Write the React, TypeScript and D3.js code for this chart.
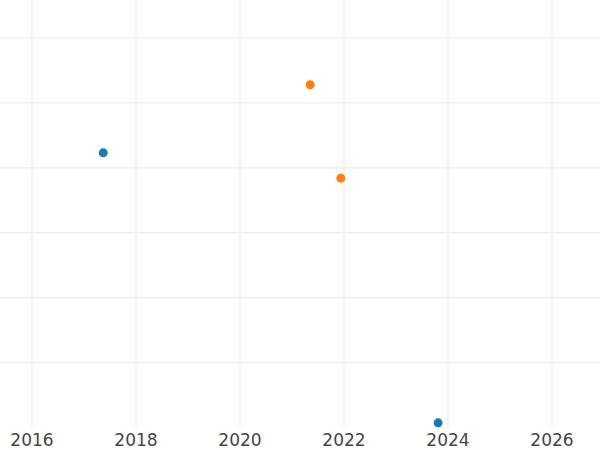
import React from "react";
import * as d3 from "d3";

const seriesNames = ["Series A", "Series B"];
const seriesColors = ["#1f77b4", "#ff7f0e"];
const seriesAYears = [2017.37, 2023.81];
const seriesAValues = [4.23, 0.07];
const seriesBYears = [2021.35, 2021.94];
const seriesBValues = [5.28, 3.84];
const xTicks = [2016, 2018, 2020, 2022, 2024, 2026];
const yTicks = [1, 2, 3, 4, 5, 6];

const W = 600;
const H = 450;
const plotBottom = 427.4;

export default function App() {
  const x = d3.scaleLinear().domain([2015.385, 2026.923]).range([0, W]);
  const y = d3.scaleLinear().domain([0, plotBottom / 64.9]).range([plotBottom, 0]);
  const series = [
    { name: seriesNames[0], color: seriesColors[0], xs: seriesAYears, ys: seriesAValues },
    { name: seriesNames[1], color: seriesColors[1], xs: seriesBYears, ys: seriesBValues },
  ];
  return (
    <div style={{ position: "absolute", left: 0, top: 0 }}>
      <svg width={W} height={H} style={{ display: "block", background: "#fff" }}>
        <g>
          {xTicks.map((t) => (
            <line key={"x" + t} x1={x(t)} x2={x(t)} y1={0} y2={plotBottom} stroke="#ebebeb" strokeWidth={1.2} />
          ))}
          {yTicks.map((t) => (
            <line key={"y" + t} x1={0} x2={W} y1={y(t)} y2={y(t)} stroke="#ebebeb" strokeWidth={1.2} />
          ))}
        </g>
        {series.map((s) => (
          <g key={s.name}>
            {s.xs.map((xv, i) => (
              <circle key={i} cx={x(xv)} cy={y(s.ys[i])} r={4.5} fill={s.color} />
            ))}
          </g>
        ))}
        <g>
          {xTicks.map((t) => (
            <text
              key={"lx" + t}
              x={x(t)}
              y={446}
              textAnchor="middle"
              fontFamily="DejaVu Sans"
              fontSize={17}
              fill="#444"
            >
              {t}
            </text>
          ))}
        </g>
      </svg>
    </div>
  );
}
